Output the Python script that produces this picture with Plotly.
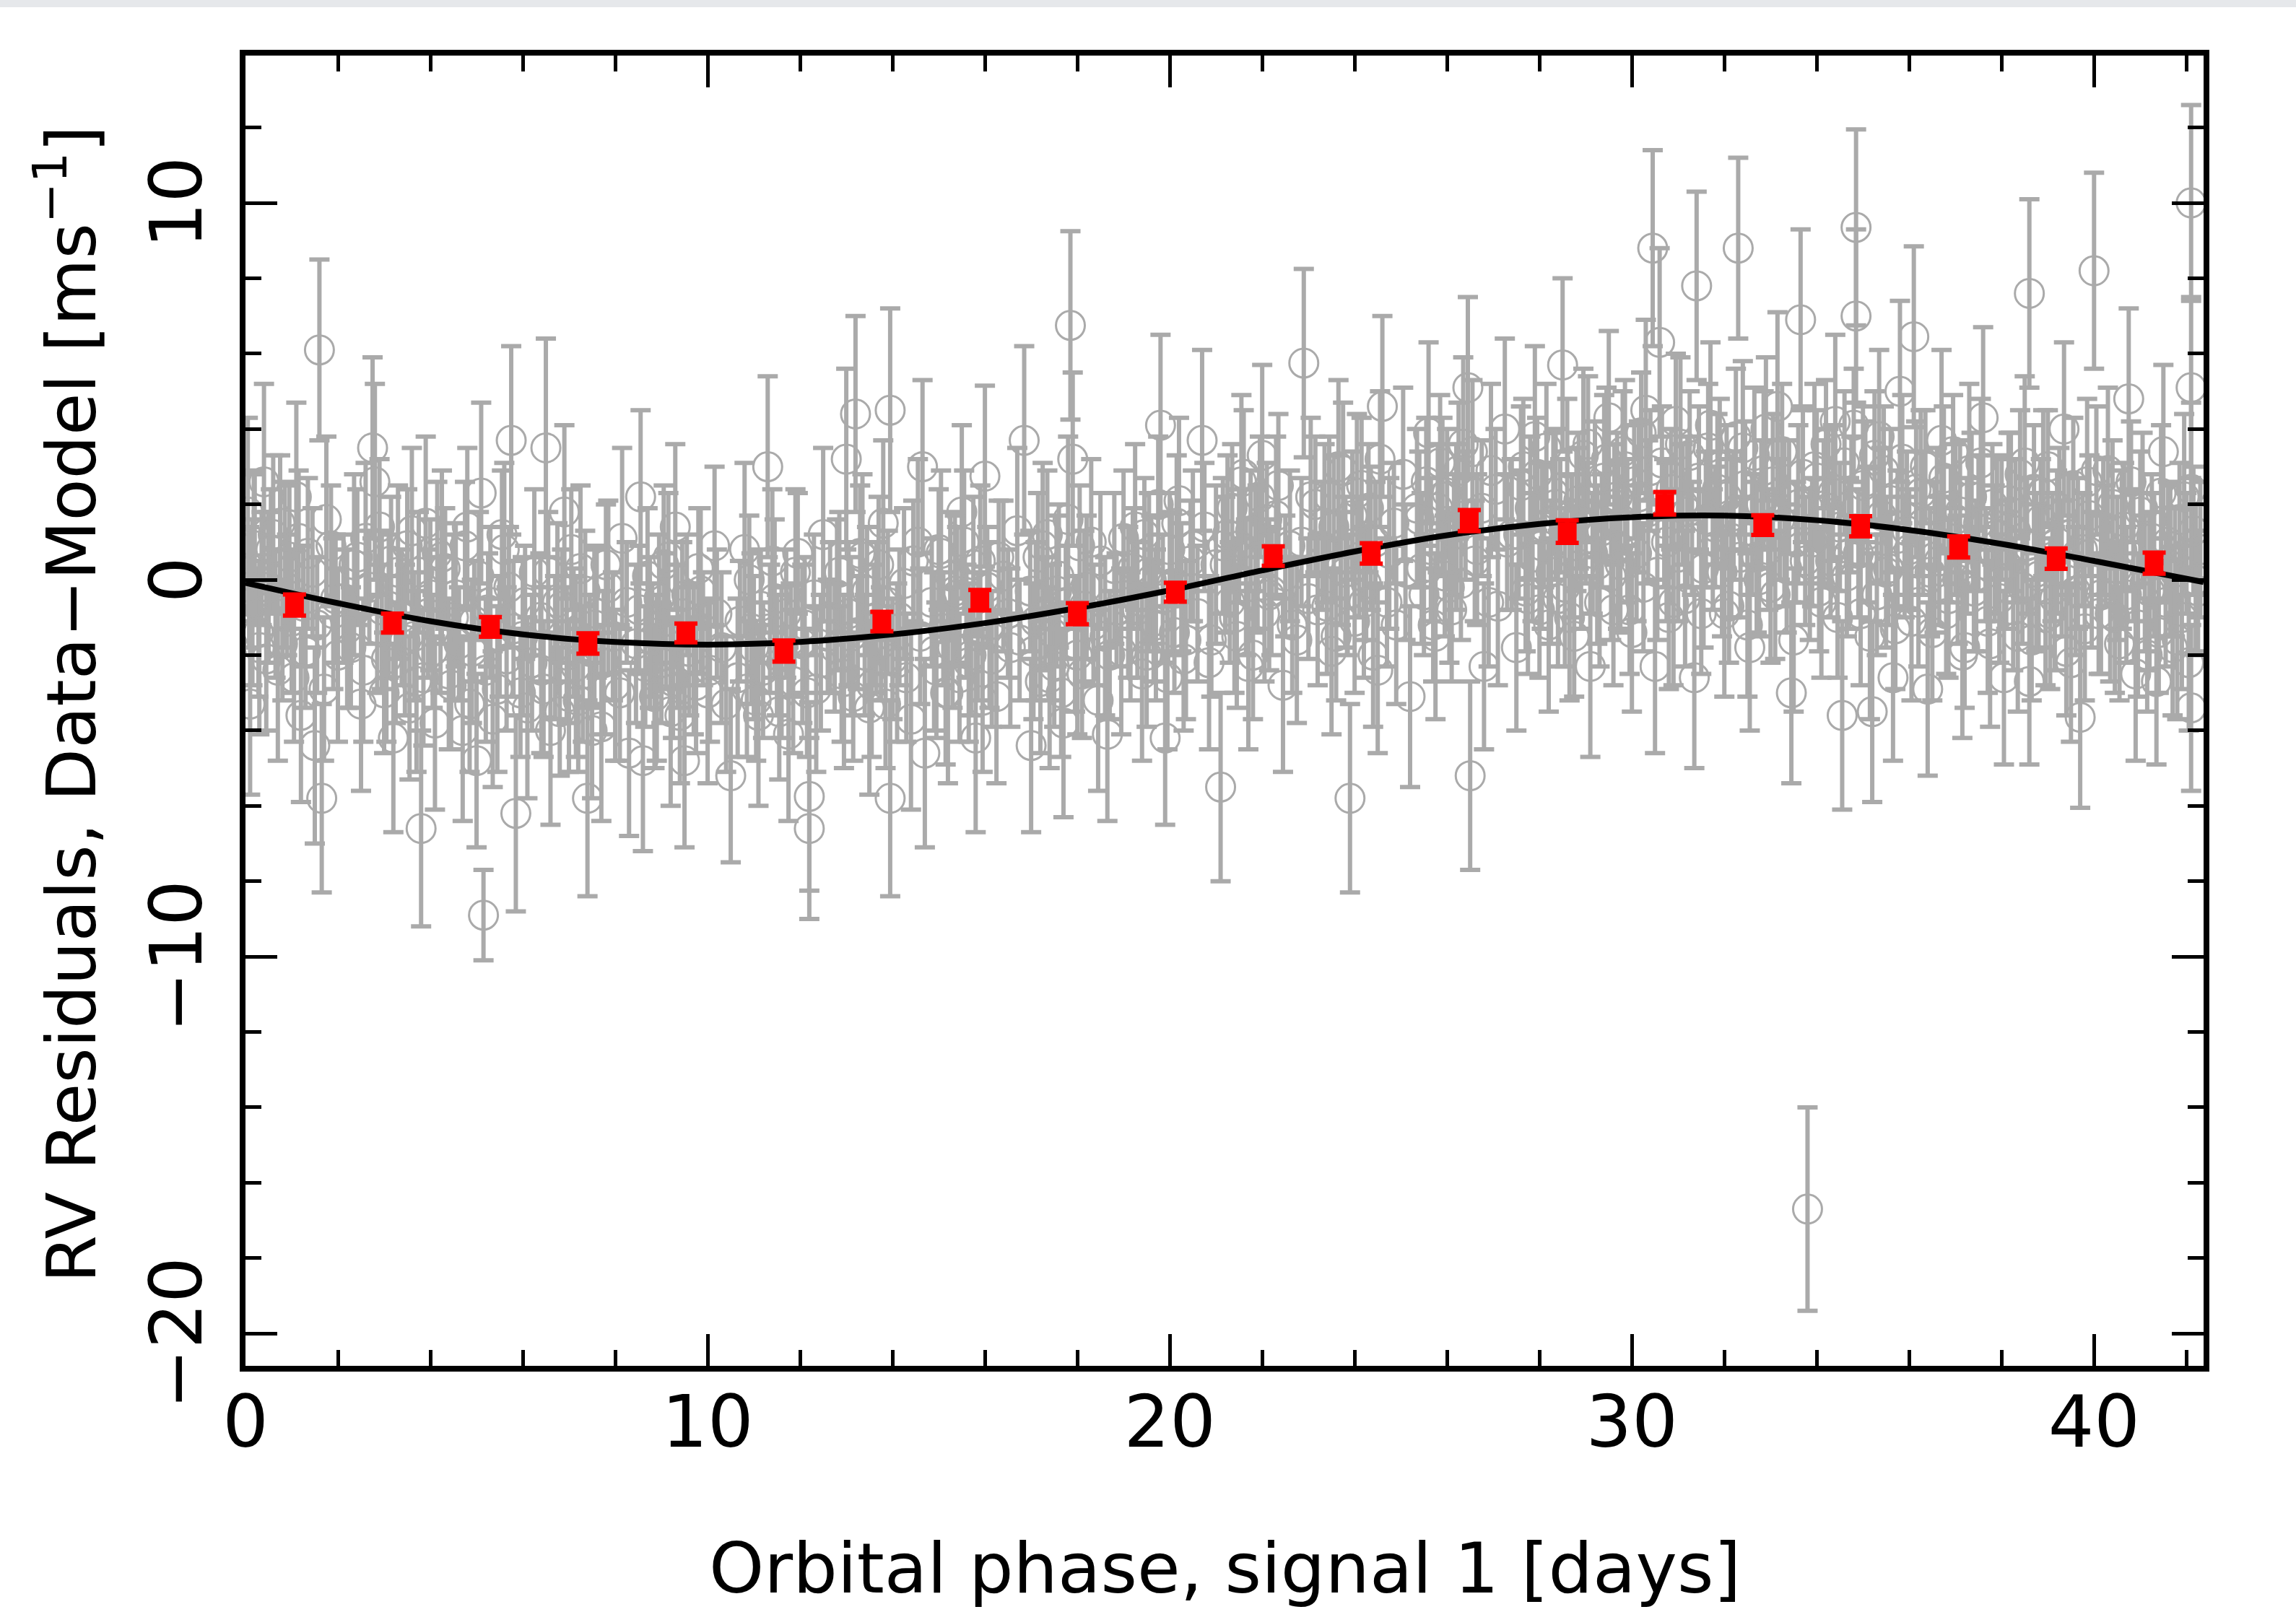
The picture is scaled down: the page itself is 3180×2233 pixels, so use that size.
import plotly.graph_objects as go

# ---- gray residual points, outer/visible ones (phase [days], residual [m/s], error [m/s]) ----
phase = [
    0.05,0.1,0.15,0.2,0.3,0.4,0.5,0.6,0.7,0.85,1.0,1.1,1.2,1.35,1.5,1.6,1.65,1.75,1.9,2.0,
    2.2,2.35,2.5,2.6,2.75,2.8,2.95,3.05,3.2,3.3,3.45,3.6,3.7,3.8,3.9,4.0,4.1,
    4.25,4.4,4.5,4.7,4.8,4.9,5.0,5.15,5.1,5.3,5.45,5.6,5.75,5.85,6.0,6.1,6.25,
    6.4,6.5,6.6,6.75,6.9,7.0,7.15,7.25,7.4,7.55,7.7,7.85,8.0,8.15,8.3,8.45,
    8.55,8.6,8.75,8.9,9.05,9.2,9.3,9.45,9.5,9.7,9.85,10.0,10.15,10.3,10.5,
    10.65,10.8,10.95,11.1,11.3,11.45,11.6,11.75,11.9,12.05,12.2,12.2,12.35,12.5,12.65,
    12.8,12.95,13.0,13.1,13.2,13.35,13.5,13.65,13.8,13.95,13.95,14.1,14.25,14.4,14.55,14.65,14.7,
    14.9,15.05,15.2,15.35,15.5,15.65,15.8,15.9,16.0,16.1,16.25,16.4,16.55,16.7,16.85,
    17.0,17.1,17.25,17.4,17.55,17.7,17.8,17.85,17.9,18.0,18.15,18.3,18.45,18.6,18.65,18.8,18.95,
    19.1,19.25,19.4,19.55,19.7,19.8,19.9,20.05,20.2,20.35,20.5,20.7,20.85,21.0,21.1,
    21.25,21.4,21.55,21.7,21.85,22.0,22.15,22.3,22.45,22.6,22.75,22.9,23.05,23.2,
    23.35,23.5,23.65,23.8,23.9,24.05,24.2,24.35,24.5,24.6,24.75,24.9,25.05,25.2,25.35,
    25.45,25.6,25.75,25.9,26.05,26.2,26.35,26.45,26.5,26.65,26.8,26.95,27.1,27.25,27.4,27.5,
    27.6,27.75,27.9,28.05,28.2,28.35,28.5,28.55,28.65,28.8,28.95,29.1,29.25,29.4,29.5,29.6,
    29.7,29.85,30.0,30.15,30.3,30.45,30.5,30.6,30.75,30.9,31.05,31.2,31.35,31.4,31.55,31.7,
    31.85,32.0,32.15,32.3,32.4,32.55,32.7,32.85,33.0,33.15,33.3,33.45,33.6,33.65,33.8,33.85,
    33.95,34.1,34.25,34.4,34.55,34.7,34.85,34.85,35.0,35.15,35.2,35.35,35.5,35.65,35.8,35.95,
    36.05,36.1,36.25,36.4,36.55,36.7,36.85,37.0,37.15,37.3,37.45,37.6,37.75,37.9,38.05,
    38.2,38.35,38.5,38.6,38.6,38.75,38.9,39.05,39.2,39.35,39.5,39.65,39.7,39.85,40.0,40.15,
    40.3,40.45,40.6,40.75,40.9,41.05,41.2,41.35,41.5,41.65,41.8,41.95,42.1,42.1,42.1,42.1,42.2,
]
resid = [
    1.8,-3.3,-0.6,0.9,-1.8,2.6,-0.2,1.2,-2.4,0.4,-1.1,2.2,-3.6,0.7,-4.4,6.1,-5.8,1.6,-0.9,-2.0,
    -1.3,0.4,-3.3,1.1,3.5,2.6,-0.8,-2.1,-4.2,0.2,-1.6,1.3,-2.7,-6.6,1.5,-0.4,-3.8,
    0.6,-2.5,-1.0,-4.0,1.4,-1.9,-4.8,-8.9,2.3,-0.6,-2.9,0.8,3.7,-6.2,-1.5,-3.4,0.2,
    -2.4,3.5,-4.0,-0.6,1.8,-3.1,-2.3,0.3,-5.8,-1.2,-3.9,-0.2,-2.8,1.1,-4.6,-1.7,
    2.2,-4.8,-1.4,-2.6,0.4,-3.5,1.4,-0.9,-4.8,-2.1,-0.3,-3.0,0.9,-1.8,-5.2,
    -2.6,0.8,-1.3,-3.6,3.0,-0.5,-2.2,-4.1,0.2,-1.7,-5.75,-6.6,-2.9,1.2,-1.0,
    -0.4,-2.7,3.2,-1.5,4.4,0.6,-3.4,-1.0,1.5,4.5,-5.8,-2.2,-0.1,-3.7,1.0,3.0,-4.6,
    -1.9,0.7,-3.0,-0.3,1.8,-2.2,-4.2,0.5,2.75,-1.2,-3.1,0.1,-1.8,1.3,3.7,
    -4.4,-1.1,0.9,-2.6,-0.3,-3.8,1.6,6.75,3.2,-2.0,-0.7,1.0,-3.2,-1.5,-4.1,0.3,-1.9,
    -0.6,1.4,-2.5,0.2,-1.2,4.1,-4.2,-0.1,2.1,-1.6,0.9,3.7,-2.2,0.4,-5.5,
    1.2,-1.0,2.6,-2.3,0.5,3.3,-0.4,1.7,-2.8,0.9,-1.6,5.75,2.2,-0.8,
    1.5,-1.9,3.0,0.2,-5.8,2.3,-0.6,1.1,-2.4,4.6,0.7,-1.2,2.8,-3.1,1.9,
    0.3,3.9,-1.5,2.2,-0.2,1.4,3.6,5.1,-5.2,0.8,-2.3,2.9,-0.7,4.0,1.2,-1.8,
    2.5,-0.5,3.8,0.9,-1.2,2.0,5.7,-0.2,-1.0,1.6,3.3,-2.3,0.4,2.7,4.3,-0.8,
    0.9,3.0,-1.4,2.2,4.5,8.8,-2.3,6.3,1.0,-0.6,3.6,1.8,-2.6,7.8,0.3,4.1,
    2.4,-0.9,1.1,8.8,3.5,-1.8,0.6,2.9,-0.2,4.6,1.5,-3.0,2.0,6.9,-16.7,0.4,
    3.0,-0.6,1.9,4.2,-3.6,0.7,9.35,7.0,2.5,-1.5,-3.5,3.8,0.2,-2.6,5.0,1.3,
    -1.1,6.45,2.3,-2.9,0.6,3.7,-0.5,1.6,-2.0,2.9,0.1,4.3,-1.7,1.2,-2.6,
    1.8,-1.5,3.1,7.6,-2.7,0.2,2.3,-0.9,1.0,4.0,-2.2,0.7,-3.65,2.6,8.2,-0.4,
    2.9,-1.0,0.8,4.8,-2.5,1.9,-0.3,-2.7,3.4,0.5,-1.6,2.2,10.0,5.1,2.4,-3.4,0.0,
]
err = [
    2.5,2.4,2.2,2.0,2.3,2.6,2.0,2.1,2.4,2.2,1.9,2.5,2.3,2.0,2.6,2.4,2.5,2.2,2.0,2.3,
    2.1,2.4,2.3,2.0,2.4,2.6,2.1,2.2,2.5,2.3,2.0,2.2,2.4,2.6,2.3,2.0,2.3,
    2.3,2.0,2.2,2.4,2.1,1.9,2.3,1.2,2.4,2.0,2.2,2.3,2.5,2.6,2.1,2.4,2.2,
    2.2,2.9,2.5,2.1,2.3,2.0,2.4,2.2,2.6,2.1,2.5,2.3,2.0,2.4,2.2,2.1,
    2.3,2.4,2.0,2.2,2.1,2.5,2.2,1.9,2.3,2.0,2.2,2.4,2.1,2.0,2.3,
    2.1,2.3,2.0,2.4,2.4,2.1,2.0,2.3,2.2,2.1,2.5,2.4,2.2,2.3,2.0,
    2.0,2.3,2.4,2.1,2.6,2.2,2.3,2.0,2.2,2.7,2.6,2.1,2.0,2.4,2.2,2.3,2.5,
    2.1,2.2,2.4,2.0,2.3,2.1,2.5,2.0,2.4,2.2,2.3,2.0,2.1,2.2,2.5,
    2.3,2.1,2.2,2.4,2.0,2.5,2.2,2.5,2.3,2.1,2.0,2.2,2.4,2.1,2.3,2.0,2.2,
    2.0,2.2,2.3,2.1,2.0,2.4,2.3,1.9,2.2,2.1,2.0,2.4,2.3,2.1,2.5,
    2.1,2.0,2.3,2.2,1.9,2.4,2.0,2.1,2.3,2.0,2.2,2.5,2.1,2.0,
    2.1,2.2,2.3,2.0,2.5,2.1,2.0,1.9,2.2,2.4,2.0,2.1,2.3,2.4,2.1,
    2.0,2.4,2.2,2.1,2.0,2.2,2.3,2.4,2.5,2.0,2.2,2.3,2.1,2.4,2.0,2.2,
    2.1,2.0,2.4,2.2,2.3,2.0,2.3,2.1,2.2,1.9,2.3,2.4,2.1,2.2,2.3,2.0,
    2.2,2.3,2.1,2.0,2.4,2.6,2.3,2.5,2.1,2.2,2.3,2.0,2.4,2.5,2.1,2.2,
    2.0,2.2,2.1,2.4,2.3,2.2,2.0,2.1,2.0,2.5,2.2,2.4,2.1,2.4,2.7,2.0,
    2.2,2.0,2.1,2.3,2.5,2.0,2.6,2.3,2.1,2.2,2.4,2.3,2.0,2.2,2.4,2.1,
    2.1,2.4,2.2,2.3,2.0,2.4,2.1,2.0,2.2,2.3,2.0,2.4,2.2,2.1,2.3,
    2.1,2.0,2.3,2.5,2.2,2.1,2.2,2.0,1.9,2.3,2.1,2.0,2.4,2.2,2.6,2.1,
    2.2,2.0,2.1,2.4,2.3,2.0,2.1,2.2,2.3,2.0,2.1,2.2,2.6,2.4,2.3,2.2,2.0,
]

# ---- gray residual points, dense core near the model ----
phase_core = [
    0.08,0.18,0.28,0.35,0.45,0.55,0.65,0.75,0.8,0.9,0.95,1.05,1.15,1.25,1.3,1.45,1.55,1.7,1.85,1.95,
    2.12,2.28,2.42,2.55,2.68,2.85,2.9,3.0,3.1,3.15,3.25,3.38,3.5,3.55,3.65,3.75,3.85,3.95,4.05,4.15,
    4.22,4.32,4.45,4.55,4.62,4.75,4.85,4.95,5.05,5.2,5.25,5.35,5.5,5.55,5.65,5.7,5.8,5.95,6.05,6.2,
    6.38,6.45,6.55,6.7,6.8,6.85,6.95,7.05,7.1,7.2,7.3,7.35,7.45,7.5,7.6,7.75,7.8,7.95,8.1,8.25,
    8.52,8.65,8.7,8.8,8.85,8.95,9.0,9.1,9.15,9.25,9.35,9.4,9.55,9.6,9.75,9.8,9.9,10.05,10.2,10.4,
    10.7,10.85,10.9,11.0,11.05,11.15,11.2,11.35,11.4,11.5,11.55,11.7,11.8,11.85,11.95,12.1,12.15,12.3,12.45,12.6,
    12.75,12.85,12.9,13.05,13.15,13.25,13.3,13.4,13.45,13.55,13.6,13.7,13.75,13.85,13.9,14.0,14.15,14.3,14.45,14.6,
    14.85,14.95,15.0,15.1,15.15,15.25,15.3,15.4,15.45,15.55,15.6,15.7,15.75,15.85,15.95,16.05,16.15,16.3,16.5,16.75,
    16.98,17.05,17.15,17.2,17.3,17.35,17.45,17.5,17.6,17.65,17.75,17.95,18.05,18.1,18.2,18.35,18.5,18.7,18.85,19.0,
    19.15,19.2,19.3,19.45,19.5,19.6,19.65,19.75,19.85,19.95,20.0,20.1,20.15,20.25,20.3,20.45,20.6,20.75,20.9,21.15,
    21.2,21.3,21.35,21.45,21.5,21.6,21.65,21.75,21.8,21.9,21.95,22.05,22.1,22.2,22.35,22.5,22.65,22.85,23.0,23.15,
    23.3,23.4,23.45,23.55,23.6,23.7,23.75,23.85,23.95,24.0,24.1,24.15,24.25,24.3,24.4,24.45,24.55,24.7,24.85,25.1,
    25.4,25.5,25.55,25.65,25.7,25.8,25.85,25.95,26.0,26.1,26.15,26.25,26.3,26.4,26.55,26.6,26.75,26.9,27.05,27.3,
    27.55,27.65,27.7,27.8,27.85,27.95,28.0,28.1,28.15,28.25,28.3,28.4,28.45,28.6,28.7,28.75,28.85,28.9,29.0,29.05,
    29.15,29.2,29.3,29.35,29.45,29.55,29.62,
    29.68,29.75,29.8,29.9,29.95,30.05,30.1,30.2,30.25,30.35,30.4,30.55,30.65,30.7,30.8,30.85,30.95,31.0,31.1,31.15,31.25,31.3,31.45,31.5,31.6,31.65,31.75,
    31.8,31.9,31.95,32.05,32.1,32.2,32.25,32.35,32.45,32.5,32.6,32.65,32.75,32.8,32.9,32.95,33.05,33.1,33.2,33.25,33.35,33.4,33.5,33.55,33.7,33.75,
    33.9,34.0,34.05,34.15,34.2,34.3,34.35,34.45,34.5,34.6,34.65,34.75,34.8,34.9,34.95,35.05,35.1,35.25,35.3,35.4,35.45,35.55,35.6,35.7,35.75,35.85,35.9,
    36.0,36.15,36.2,36.3,36.35,36.45,36.5,36.6,36.65,36.75,36.8,36.9,36.95,37.05,37.1,37.2,37.25,37.35,37.4,37.5,37.55,37.65,37.7,37.8,37.85,37.95,38.0,
    38.1,38.15,38.25,38.3,38.4,38.45,38.55,38.65,38.7,38.8,38.85,38.95,39.0,39.1,39.15,39.25,39.3,39.4,39.45,39.55,39.6,39.75,39.8,39.9,39.95,40.05,40.1,40.2,
    40.25,40.35,40.4,40.5,40.55,40.65,40.7,40.8,40.85,40.95,41.0,41.1,41.15,41.25,41.3,41.4,41.45,41.55,41.6,41.7,41.75,41.85,41.9,42.0,42.05,42.15,42.25,42.3,
]
resid_core = [
    -0.2,1.0,-1.4,0.3,-2.1,0.8,-0.9,1.5,-1.7,-0.4,0.6,-2.6,1.1,-0.7,-1.9,0.2,-1.2,-2.9,0.9,-0.5,
    -0.5,-1.8,0.6,-2.4,-0.2,-1.3,1.4,-3.0,-0.7,0.5,-2.2,-1.0,0.9,-3.4,-1.5,0.2,-2.6,-0.9,-1.9,0.7,
    -1.2,0.3,-2.8,-0.4,-1.7,0.9,-3.3,-1.1,0.1,-2.4,-0.8,-3.7,-1.5,1.2,-2.1,-0.2,-1.3,-3.0,-0.6,-2.2,
    -1.0,-2.9,0.2,-1.8,-3.5,-0.7,-2.0,0.8,-1.4,-3.2,-2.5,-0.3,-1.9,-4.0,-0.9,-2.2,0.4,-1.5,-3.0,-0.6,
    -0.8,-2.3,0.1,-1.6,-3.1,-0.5,-2.2,-1.1,0.6,-2.7,-1.5,-3.6,-0.4,-1.9,-2.8,0.3,-1.3,-2.4,-0.9,-3.3,
    -1.1,-2.9,0.0,-1.8,-3.2,-0.7,-2.4,-1.3,0.5,-2.0,-3.5,-0.9,-1.6,-2.7,0.7,-1.2,-3.0,-0.4,-2.2,-1.5,
    -1.8,0.2,-2.5,-0.9,-3.1,-1.4,0.7,-2.0,-0.3,-2.8,-1.2,0.4,-1.7,-3.3,-0.6,-2.1,-1.0,-2.6,0.5,-1.5,
    -0.6,-2.4,0.8,-1.3,-3.0,0.1,-1.8,-0.4,-2.6,1.0,-1.1,-2.0,0.4,-1.5,-3.2,-0.2,-2.1,0.6,-0.9,-1.6,
    -0.3,-1.9,0.6,-2.7,-0.9,1.2,-1.4,-2.3,0.1,-3.0,-0.6,-1.7,0.9,-2.5,-0.2,-1.2,0.5,-2.0,-0.8,1.1,
    -1.5,0.3,-0.8,1.2,-2.0,0.0,-1.1,2.0,-0.5,-2.6,0.8,-1.4,1.5,-0.2,-2.1,0.5,-0.9,1.4,-1.6,0.9,
    0.4,-0.6,1.9,-1.5,0.9,2.8,-0.2,1.3,-2.0,0.6,2.2,-0.9,1.6,-0.3,2.5,0.1,-1.2,1.0,-0.5,2.0,
    0.9,-0.7,2.2,1.4,-1.5,0.3,2.9,-0.4,1.7,-1.1,0.6,2.5,-0.1,1.9,-2.0,1.0,3.2,-0.6,1.5,0.2,
    1.6,-0.4,2.6,0.8,-1.2,1.9,3.1,0.1,2.3,-0.8,1.2,2.9,-0.1,1.7,3.4,0.5,1.9,-0.6,2.4,1.0,
    1.2,3.0,-0.3,1.9,0.6,2.8,-0.8,1.4,3.5,0.2,2.3,-0.5,1.7,3.1,0.9,-1.5,2.1,0.4,1.5,3.6,
    0.7,2.4,-0.6,1.3,3.2,0.1,2.0,
    2.2,0.4,3.4,1.3,-0.8,2.6,0.7,3.9,-0.2,1.8,2.9,0.2,3.1,1.5,-1.0,2.4,4.2,0.6,2.0,-0.5,3.3,1.1,2.7,-0.9,1.6,3.5,0.8,
    1.4,3.0,0.2,2.2,-0.7,1.7,3.8,0.6,2.5,-1.2,1.2,3.3,0.0,2.0,4.0,0.8,2.6,-0.4,1.6,3.4,0.3,2.2,-1.6,1.0,2.8,0.5,
    1.0,2.7,-0.3,1.8,3.6,0.5,2.3,-1.0,1.4,3.1,0.1,2.0,4.1,0.7,-0.9,2.6,1.2,3.3,-0.4,1.7,2.9,0.3,2.1,-1.3,1.1,3.2,0.6,
    0.8,2.4,-0.6,1.5,3.0,0.2,-1.4,1.9,0.5,2.7,-0.9,1.2,3.4,0.0,1.8,-1.8,0.9,2.2,-0.3,1.5,3.1,0.4,-1.1,2.0,0.7,-0.5,1.6,
    0.4,2.1,-0.8,1.3,2.8,-0.2,0.9,-1.6,2.4,0.1,1.6,-1.0,3.0,0.6,-0.5,1.9,0.3,-1.9,1.2,2.5,-0.3,0.8,-1.3,1.7,0.0,2.9,-0.9,1.4,
    0.9,-0.9,2.0,0.3,-1.7,1.4,-0.4,2.6,0.6,-1.2,1.8,-0.1,-2.0,1.1,0.4,-1.4,2.3,-0.6,1.0,-1.8,0.2,1.6,-1.0,0.7,-2.2,1.3,-0.3,0.8,
]
err_core = [
    1.6,1.8,1.7,1.5,1.9,1.6,1.7,1.8,1.5,1.6,1.9,1.7,1.8,1.6,1.5,1.7,1.8,1.9,1.6,1.7,
    1.7,1.6,1.8,1.9,1.5,1.7,1.8,1.6,1.9,1.7,1.6,1.8,1.5,1.9,1.7,1.6,1.8,1.7,1.5,1.9,
    1.8,1.6,1.7,1.9,1.5,1.7,1.8,1.6,1.7,1.9,1.5,1.8,1.6,1.7,1.9,1.6,1.8,1.7,1.5,1.8,
    1.7,1.8,1.6,1.9,1.7,1.5,1.8,1.6,1.7,1.9,1.8,1.6,1.5,1.8,1.7,1.9,1.6,1.7,1.8,1.6,
    1.7,1.6,1.8,1.5,1.9,1.7,1.6,1.8,1.7,1.5,1.9,1.8,1.6,1.7,1.8,1.6,1.5,1.9,1.7,1.8,
    1.6,1.8,1.7,1.9,1.6,1.5,1.8,1.7,1.9,1.6,1.8,1.7,1.5,1.9,1.6,1.8,1.7,1.6,1.8,1.5,
    1.7,1.6,1.8,1.9,1.7,1.5,1.8,1.6,1.7,1.9,1.6,1.8,1.5,1.7,1.9,1.6,1.8,1.7,1.6,1.8,
    1.7,1.8,1.6,1.5,1.9,1.7,1.6,1.8,1.7,1.9,1.5,1.6,1.8,1.7,1.9,1.6,1.8,1.5,1.7,1.6,
    1.6,1.8,1.7,1.9,1.5,1.7,1.8,1.6,1.9,1.7,1.5,1.8,1.6,1.7,1.9,1.6,1.8,1.7,1.5,1.8,
    1.7,1.6,1.8,1.5,1.9,1.7,1.6,1.8,1.7,1.9,1.5,1.6,1.8,1.7,1.9,1.6,1.8,1.7,1.5,1.8,
    1.8,1.6,1.7,1.9,1.5,1.7,1.8,1.6,1.7,1.9,1.6,1.8,1.5,1.7,1.9,1.6,1.8,1.7,1.6,1.8,
    1.7,1.8,1.6,1.9,1.7,1.5,1.8,1.6,1.7,1.9,1.6,1.8,1.5,1.7,1.9,1.6,1.8,1.7,1.6,1.8,
    1.8,1.6,1.7,1.9,1.5,1.7,1.8,1.6,1.7,1.9,1.6,1.8,1.5,1.7,1.9,1.6,1.8,1.7,1.6,1.8,
    1.7,1.8,1.6,1.9,1.7,1.5,1.8,1.6,1.7,1.9,1.6,1.8,1.5,1.7,1.9,1.6,1.8,1.7,1.6,1.8,
    1.6,1.8,1.7,1.5,1.9,1.7,1.6,
    1.7,1.8,1.6,1.9,1.7,1.5,1.8,1.6,1.7,1.9,1.6,1.8,1.5,1.7,1.9,1.6,1.8,1.7,1.6,1.8,1.7,1.5,1.9,1.6,1.8,1.7,1.6,
    1.6,1.8,1.7,1.9,1.5,1.7,1.8,1.6,1.7,1.9,1.6,1.8,1.5,1.7,1.9,1.6,1.8,1.7,1.6,1.8,1.7,1.5,1.9,1.6,1.8,1.7,
    1.7,1.8,1.6,1.9,1.7,1.5,1.8,1.6,1.7,1.9,1.6,1.8,1.5,1.7,1.9,1.6,1.8,1.7,1.6,1.8,1.7,1.5,1.9,1.6,1.8,1.7,1.6,
    1.6,1.8,1.7,1.9,1.5,1.7,1.8,1.6,1.7,1.9,1.6,1.8,1.5,1.7,1.9,1.6,1.8,1.7,1.6,1.8,1.7,1.5,1.9,1.6,1.8,1.7,1.6,
    1.7,1.8,1.6,1.9,1.7,1.5,1.8,1.6,1.7,1.9,1.6,1.8,1.5,1.7,1.9,1.6,1.8,1.7,1.6,1.8,1.7,1.5,1.9,1.6,1.8,1.7,1.6,1.8,
    1.6,1.8,1.7,1.9,1.5,1.7,1.8,1.6,1.7,1.9,1.6,1.8,1.5,1.7,1.9,1.6,1.8,1.7,1.6,1.8,1.7,1.5,1.9,1.6,1.8,1.7,1.6,1.8,
]

# ---- binned (red) points ----
bin_phase = [1.06,3.18,5.30,7.41,9.53,11.65,13.77,15.89,18.00,20.12,
             22.24,24.36,26.48,28.60,30.71,32.83,34.95,37.07,39.18,41.30]
bin_resid = [-0.67,-1.15,-1.25,-1.69,-1.41,-1.89,-1.11,-0.54,-0.90,-0.33,
             0.63,0.70,1.57,1.28,2.03,1.45,1.42,0.87,0.56,0.44]
bin_err = [0.28,0.25,0.26,0.27,0.25,0.28,0.26,0.27,0.28,0.25,
           0.26,0.27,0.28,0.30,0.30,0.26,0.27,0.28,0.27,0.28]

# ---- model curve ----
model_phase = [0,2,4,6,8,10,12,14,16,18,20,22,24,26,28,30,32,34,36,38,40,42.37]
model_rv = [-0.08,-0.62,-1.10,-1.45,-1.65,-1.72,-1.65,-1.45,-1.15,-0.75,-0.28,
            0.25,0.75,1.18,1.48,1.66,1.70,1.58,1.32,0.95,0.50,-0.06]

x_range = [0, 42.37]
y_range = [-20.86, 13.91]
x_tickvals = [0, 10, 20, 30, 40]
y_tickvals = [-20, -10, 0, 10]
y_ticktext = ["\u221220", "\u221210", "0", "10"]

GRAY = "#aaaaaa"
FONT = "DejaVu Sans"

all_phase = phase_core + phase
all_resid = resid_core + resid
all_err = err_core + err

fig = go.Figure()
fig.add_trace(go.Scatter(
    x=all_phase, y=all_resid, mode="markers",
    marker=dict(symbol="circle-open", size=40, color=GRAY, line=dict(width=3, color=GRAY)),
    error_y=dict(type="data", array=all_err, color=GRAY, thickness=6, width=14),
    showlegend=False, hoverinfo="skip",
))
fig.add_trace(go.Scatter(
    x=model_phase, y=model_rv, mode="lines",
    line=dict(color="black", width=8, shape="spline", smoothing=1.0),
    showlegend=False, hoverinfo="skip",
))
fig.add_trace(go.Scatter(
    x=bin_phase, y=bin_resid, mode="markers",
    marker=dict(symbol="square", size=26, color="#ff0000", line=dict(width=0)),
    error_y=dict(type="data", array=bin_err, color="#ff0000", thickness=6, width=16),
    showlegend=False, hoverinfo="skip",
))

axis_common = dict(
    showline=True, linewidth=8, linecolor="black", mirror="ticks",
    ticks="inside", ticklen=44, tickwidth=5, tickcolor="black",
    showgrid=False, zeroline=False,
    tickfont=dict(family=FONT, size=100, color="black"),
)
fig.update_xaxes(
    range=x_range, tickmode="array", tickvals=x_tickvals,
    ticktext=[str(v) for v in x_tickvals],
    minor=dict(dtick=2, tick0=0, ticks="inside", ticklen=22, tickwidth=5, tickcolor="black", showgrid=False),
    ticklabelstandoff=-16,
    **axis_common,
)
fig.update_yaxes(
    range=y_range, tickmode="array", tickvals=y_tickvals,
    showticklabels=False,
    minor=dict(dtick=2, tick0=0, ticks="inside", ticklen=22, tickwidth=5, tickcolor="black", showgrid=False),
    **axis_common,
)

W, H = 3180, 2233
L, R, T, B = 340, 128, 77, 341
pw, ph = W - L - R, H - T - B

annotations = [
    dict(text="Orbital phase, signal 1 [days]", xref="paper", yref="paper",
         x=0.5, y=-280 / ph, xanchor="center", yanchor="middle",
         showarrow=False, font=dict(family=FONT, size=97, color="black")),
    dict(text="RV Residuals, Data\u2212Model [ms<sup>\u22121</sup>]", xref="paper", yref="paper",
         x=(92 - L) / pw, y=(H - B - 976) / ph, xanchor="center", yanchor="middle",
         textangle=-90, showarrow=False, font=dict(family=FONT, size=95, color="black")),
]
for v, t in zip(y_tickvals, y_ticktext):
    annotations.append(dict(
        text=t, xref="paper", yref="y", x=(244 - L) / pw, y=v,
        xanchor="center", yanchor="middle", textangle=-90, showarrow=False,
        font=dict(family=FONT, size=100, color="black"),
    ))

fig.update_layout(
    width=W, height=H,
    margin=dict(l=L, r=R, t=T, b=B, pad=0),
    paper_bgcolor="white", plot_bgcolor="white",
    font=dict(family=FONT, color="black"),
    annotations=annotations,
    shapes=[
        dict(type="rect", xref="paper", yref="paper",
             x0=-L / pw, x1=(W - L) / pw, y0=(H - B - 10) / ph, y1=(H - B) / ph,
             fillcolor="#e6e8eb", line=dict(width=0), layer="above"),
    ],
)

fig.write_html("out.html")
